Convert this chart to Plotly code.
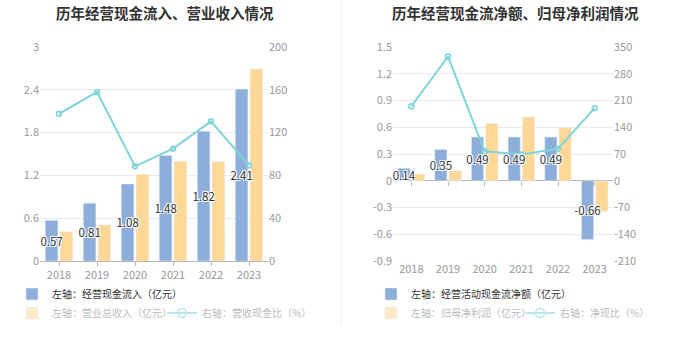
import plotly.graph_objects as go

W, H = 680, 349

years = ["2018", "2019", "2020", "2021", "2022", "2023"]

# Left chart
cash_in = [0.57, 0.81, 1.08, 1.48, 1.82, 2.41]          # 经营现金流入 (亿元)
revenue = [0.41, 0.505, 1.215, 1.40, 1.39, 2.69]         # 营业总收入 (亿元)
cash_rev_ratio = [137.6, 158.0, 88.5, 105.0, 130.5, 89.5]  # 营收现金比 (%)

# Right chart
net_cash = [0.14, 0.35, 0.49, 0.49, 0.49, -0.66]         # 经营活动现金流净额 (亿元)
net_profit = [0.075, 0.11, 0.643, 0.714, 0.594, -0.343]  # 归母净利润 (亿元)
net_cash_ratio = [195.0, 325.0, 77.0, 69.0, 84.0, 190.0]  # 净现比 (%)

# Tick labels
l_ticks = [0, 0.6, 1.2, 1.8, 2.4, 3]
l_ticktext = ["0", "0.6", "1.2", "1.8", "2.4", "3"]
l2_ticks = [0, 40, 80, 120, 160, 200]
l2_ticktext = ["0", "40", "80", "120", "160", "200"]
r_ticks = [-0.9, -0.6, -0.3, 0, 0.3, 0.6, 0.9, 1.2, 1.5]
r_ticktext = ["-0.9", "-0.6", "-0.3", "0", "0.3", "0.6", "0.9", "1.2", "1.5"]
r2_ticks = [-210, -140, -70, 0, 70, 140, 210, 280, 350]
r2_ticktext = ["-210", "-140", "-70", "0", "70", "140", "210", "280", "350"]

BLUE = "#8DADDA"
ORANGE = "#FFD797"
CYAN = "#7FD4D9"
BLUE_LG = "#8DADDA"
ORANGE_LG = "#FFE9C8"
CYAN_LG = "#B9E8EB"
FONT = "Noto Sans CJK SC, sans-serif"
TICK_COLOR = "#999999"
GRID = "#E6EAF2"
AXIS = "#B5B5B5"
CLEAR = "rgba(0,0,0,0)"

label_font = dict(family=FONT, size=11.5, color="#333333",
                  shadow="1px 1px 0 #fff, -1px -1px 0 #fff, 1px -1px 0 #fff, -1px 1px 0 #fff")

fig = go.Figure()

def fmt(v):
    return f"{v:.2f}"

def bars(xa, ya, blue_vals, orange_vals):
    fig.add_trace(go.Bar(x=years, y=blue_vals, marker_color=BLUE, xaxis=xa, yaxis=ya,
                         showlegend=False, hoverinfo="skip"))
    fig.add_trace(go.Bar(x=years, y=orange_vals, marker_color=ORANGE, xaxis=xa, yaxis=ya,
                         showlegend=False, hoverinfo="skip"))

def labels(xa, ya, blue_vals, orange_vals):
    # transparent copies on an overlay axis so the labels sit above all bars
    fig.add_trace(go.Bar(x=years, y=blue_vals, marker=dict(color=CLEAR, line=dict(width=0)),
                         xaxis=xa, yaxis=ya,
                         text=[fmt(v) for v in blue_vals], textposition="inside",
                         insidetextanchor="middle", constraintext="none", textangle=0,
                         textfont=label_font, cliponaxis=False, showlegend=False,
                         hoverinfo="skip"))
    fig.add_trace(go.Bar(x=years, y=orange_vals, marker=dict(color=CLEAR, line=dict(width=0)),
                         xaxis=xa, yaxis=ya, showlegend=False, hoverinfo="skip"))

def ratio_line(xa, ya, vals):
    fig.add_trace(go.Scatter(x=years, y=vals, xaxis=xa, yaxis=ya,
                             mode="lines+markers", line=dict(color=CYAN, width=2),
                             marker=dict(symbol="circle-open", size=5, color=CYAN,
                                         line=dict(width=1.5)),
                             cliponaxis=False, showlegend=False, hoverinfo="skip"))

bars("x", "y", cash_in, revenue)
ratio_line("x", "y2", cash_rev_ratio)
labels("x", "y5", cash_in, revenue)

bars("x2", "y3", net_cash, net_profit)
ratio_line("x2", "y4", net_cash_ratio)
labels("x2", "y6", net_cash, net_profit)

# zero-line tick marks for the right chart (invisible points on an overlay x axis)
fig.add_trace(go.Scatter(x=years, y=[0] * len(years), xaxis="x3", yaxis="y3",
                         mode="markers", marker=dict(color=CLEAR, size=1),
                         showlegend=False, hoverinfo="skip"))

# ---- legend dummies
def dummy_bar(name, color, legend, xa, ya):
    fig.add_trace(go.Bar(x=[None], y=[None], name=name, marker_color=color,
                         legend=legend, xaxis=xa, yaxis=ya, hoverinfo="skip"))

def dummy_line(name, legend, xa, ya):
    fig.add_trace(go.Scatter(x=[None], y=[None], name=name, mode="lines+markers",
                             line=dict(color=CYAN_LG, width=2),
                             marker=dict(symbol="circle-open", size=9, color=CYAN_LG,
                                         line=dict(width=1.5)),
                             legend=legend, xaxis=xa, yaxis=ya, hoverinfo="skip"))

dummy_bar("左轴：经营现金流入（亿元）", BLUE_LG, "legend", "x", "y2")
dummy_bar("左轴：营业总收入（亿元）", ORANGE_LG, "legend2", "x", "y2")
dummy_line("右轴：营收现金比（%）", "legend2", "x", "y2")
dummy_bar("左轴：经营活动现金流净额（亿元）", BLUE_LG, "legend3", "x2", "y4")
dummy_bar("左轴：归母净利润（亿元）", ORANGE_LG, "legend4", "x2", "y4")
dummy_line("右轴：净现比（%）", "legend4", "x2", "y4")

def px_x(p):
    return p / W

def px_y(p):
    return 1 - p / H

tickfont = dict(family=FONT, size=11, color=TICK_COLOR)

ydom = [px_y(261), px_y(47)]
zero_pos = px_y(261) + (px_y(47) - px_y(261)) * (0.9 / 2.4)

fig.update_layout(
    width=W, height=H,
    margin=dict(l=0, r=0, t=0, b=0, autoexpand=False),
    paper_bgcolor="white", plot_bgcolor="white",
    barmode="group", bargap=0.22, bargroupgap=0.15,
    font=dict(family=FONT),
    hovermode=False,
    xaxis=dict(domain=[px_x(40), px_x(268)], anchor="y", type="category",
               showline=True, linecolor=AXIS, linewidth=1,
               ticks="outside", ticklen=4, tickcolor=AXIS,
               showgrid=False, tickfont=tickfont, fixedrange=True),
    yaxis=dict(domain=ydom, anchor="x", range=[0, 3], tickvals=l_ticks,
               ticktext=l_ticktext, showgrid=True, gridcolor=GRID, zeroline=False,
               showline=False, tickfont=tickfont, fixedrange=True),
    yaxis2=dict(overlaying="y", side="right", anchor="x", range=[0, 200],
                tickvals=l2_ticks, ticktext=l2_ticktext, showgrid=False,
                zeroline=False, showline=False, tickfont=tickfont, fixedrange=True),
    yaxis5=dict(overlaying="y", anchor="x", range=[0, 3], visible=False,
                fixedrange=True),
    xaxis2=dict(domain=[px_x(393), px_x(613)], anchor="y3", type="category",
                showline=False, ticks="", showgrid=False, tickfont=tickfont,
                fixedrange=True),
    xaxis3=dict(overlaying="x2", matches="x2", anchor="free", position=zero_pos,
                type="category", showline=False, ticks="outside", ticklen=4,
                tickcolor=AXIS, showticklabels=False, showgrid=False,
                fixedrange=True),
    yaxis3=dict(domain=ydom, anchor="x2", range=[-0.9, 1.5], tickvals=r_ticks,
                ticktext=r_ticktext, showgrid=True, gridcolor=GRID, zeroline=True,
                zerolinecolor=AXIS, zerolinewidth=1, showline=False,
                tickfont=tickfont, fixedrange=True),
    yaxis4=dict(overlaying="y3", side="right", anchor="x2", range=[-210, 350],
                tickvals=r2_ticks, ticktext=r2_ticktext, showgrid=False,
                zeroline=False, showline=False, tickfont=tickfont, fixedrange=True),
    yaxis6=dict(overlaying="y3", anchor="x2", range=[-0.9, 1.5], visible=False,
                fixedrange=True),
)

legfont_dark = dict(family=FONT, size=10, color="#333333")
legfont_light = dict(family=FONT, size=10, color="#BBBBBB")
common = dict(orientation="h", xanchor="left", yanchor="middle",
              bgcolor="rgba(0,0,0,0)", borderwidth=0, itemclick=False,
              itemdoubleclick=False, tracegroupgap=0)

fig.update_layout(
    legend=dict(x=px_x(12), y=px_y(294), font=legfont_dark, **common),
    legend2=dict(x=px_x(12), y=px_y(313), font=legfont_light, entrywidth=105,
                 entrywidthmode="pixels", **common),
    legend3=dict(x=px_x(371), y=px_y(294), font=legfont_dark, **common),
    legend4=dict(x=px_x(371), y=px_y(313), font=legfont_light, entrywidth=104,
                 entrywidthmode="pixels", **common),
)

title_font = dict(family=FONT, size=14.5, color="#333333", weight="bold")
fig.add_annotation(text="历年经营现金流入、营业收入情况", x=px_x(165), y=px_y(12),
                   xref="paper", yref="paper", showarrow=False, font=title_font,
                   xanchor="center", yanchor="middle")
fig.add_annotation(text="历年经营现金流净额、归母净利润情况", x=px_x(515), y=px_y(12),
                   xref="paper", yref="paper", showarrow=False, font=title_font,
                   xanchor="center", yanchor="middle")

fig.add_shape(type="line", xref="paper", yref="paper", x0=px_x(341), x1=px_x(341),
              y0=px_y(325), y1=1, line=dict(color="#EEEEEE", width=1))

fig.write_html("out.html")
